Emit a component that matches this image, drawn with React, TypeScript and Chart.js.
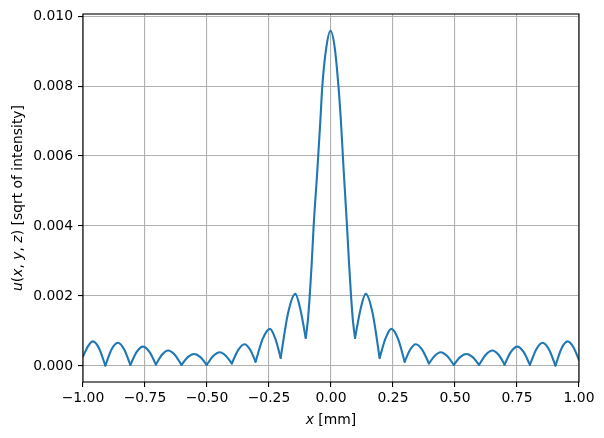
import React, { useEffect, useRef } from "react";
import { Chart, registerables } from "chart.js";

Chart.register(...registerables);

// x positions [mm]
const X_MM = [
  -1.0, -0.98, -0.96, -0.935, -0.91, -0.885, -0.859, -0.834, -0.809, -0.7835,
  -0.758, -0.732, -0.706, -0.6815, -0.657, -0.63, -0.603, -0.5775, -0.552, -0.5265,
  -0.501, -0.475, -0.449, -0.4245, -0.4, -0.3745, -0.349, -0.3265, -0.304, -0.275,
  -0.246, -0.2245, -0.203, -0.1735, -0.144, -0.123, -0.102,
  -0.094, -0.086, -0.078, -0.07, -0.055, -0.043, -0.035, -0.019, -0.002, 0.015, 0.03,
  0.04, 0.051, 0.0645, 0.073, 0.081, 0.089,
  0.097, 0.1185, 0.14, 0.168, 0.196, 0.2195, 0.243, 0.27, 0.297, 0.3195,
  0.342, 0.3685, 0.395, 0.4185, 0.442, 0.4685, 0.495, 0.5205, 0.546, 0.5715,
  0.597, 0.624, 0.651, 0.6755, 0.7, 0.7255, 0.751, 0.7765, 0.802, 0.8275,
  0.853, 0.879, 0.905, 0.9295, 0.954, 0.977, 1.0,
];

// u(x, y, z) [sqrt of intensity]
const U_VALUES = [
  0.00027, 0.00056, 0.0007, 0.0005, 0.00001, 0.00047, 0.00066, 0.00047, 0.00003, 0.0004,
  0.00055, 0.0004, 0.00004, 0.00032, 0.00044, 0.00032, 0.00003, 0.00025, 0.00034, 0.00025,
  0.00003, 0.00028, 0.00039, 0.00029, 0.00007, 0.00045, 0.00062, 0.00047, 0.00012, 0.00078,
  0.00106, 0.00078, 0.00023, 0.0015, 0.00206, 0.0016, 0.0008,
  0.00125, 0.00198, 0.0029, 0.004, 0.0056, 0.007, 0.008, 0.0091, 0.00958, 0.0091, 0.008,
  0.007, 0.0056, 0.004, 0.0029, 0.00198, 0.00125,
  0.0008, 0.0016, 0.00206, 0.0015, 0.00023, 0.00078, 0.00106, 0.00078, 0.00012, 0.00047,
  0.00062, 0.00045, 0.00007, 0.00029, 0.00039, 0.00028, 0.00003, 0.00025, 0.00034, 0.00025,
  0.00003, 0.00032, 0.00044, 0.00032, 0.00004, 0.0004, 0.00055, 0.0004, 0.00003, 0.00047,
  0.00066, 0.00047, 0.00001, 0.0005, 0.0007, 0.00054, 0.00017,
];

const X_TICKS = [-1.0, -0.75, -0.5, -0.25, 0.0, 0.25, 0.5, 0.75, 1.0];
const Y_TICKS = [0.0, 0.002, 0.004, 0.006, 0.008, 0.01];
const X_RANGE = [-1.0, 1.0];
const Y_RANGE = [-0.00046, 0.01006];

const FONT = "'DejaVu Sans', sans-serif";
const LINE_COLOR = "#1f77b4";

function fmt(v: number, d: number) {
  const s = Math.abs(v).toFixed(d);
  return v < -1e-12 ? "\u2212" + s : s;
}

// split the curve at its zeros (local minima) so each lobe meets the next in a cusp
function buildSegments() {
  const cuts: number[] = [0];
  for (let i = 1; i < U_VALUES.length - 1; i++) {
    if (U_VALUES[i] < U_VALUES[i - 1] && U_VALUES[i] < U_VALUES[i + 1]) cuts.push(i);
  }
  cuts.push(U_VALUES.length - 1);
  const segs: { x: number; y: number }[][] = [];
  for (let k = 0; k < cuts.length - 1; k++) {
    const seg: { x: number; y: number }[] = [];
    for (let i = cuts[k]; i <= cuts[k + 1]; i++) seg.push({ x: X_MM[i], y: U_VALUES[i] });
    segs.push(seg);
  }
  return segs;
}

type Piece = [string, boolean];

function drawPieces(ctx: CanvasRenderingContext2D, pieces: Piece[], cx: number, cy: number, size: number) {
  const widths = pieces.map(([t, it]) => {
    ctx.font = `${it ? "italic " : ""}${size}px ${FONT}`;
    return ctx.measureText(t).width;
  });
  const total = widths.reduce((a, b) => a + b, 0);
  let x = cx - total / 2;
  ctx.textBaseline = "middle";
  ctx.textAlign = "left";
  pieces.forEach(([t, it], i) => {
    ctx.font = `${it ? "italic " : ""}${size}px ${FONT}`;
    ctx.fillText(t, x, cy);
    x += widths[i];
  });
}

const framePlugin = {
  id: "frameAndTitles",
  afterDatasetsDraw(chart: any) {
    const { ctx, chartArea } = chart;
    ctx.save();
    ctx.strokeStyle = "#000";
    ctx.lineWidth = 1.1;
    ctx.strokeRect(chartArea.left, chartArea.top, chartArea.right - chartArea.left, chartArea.bottom - chartArea.top);
    ctx.restore();
  },
  afterDraw(chart: any) {
    const { ctx, chartArea } = chart;
    ctx.save();
    ctx.fillStyle = "#000";
    const cx = (chartArea.left + chartArea.right) / 2;
    drawPieces(ctx, [["x", true], [" [mm]", false]], cx, 420, 13.9);
    ctx.translate(18, (chartArea.top + chartArea.bottom) / 2);
    ctx.rotate(-Math.PI / 2);
    drawPieces(
      ctx,
      [
        ["u", true], ["(", false], ["x", true], [", ", false], ["y", true], [", ", false], ["z", true],
        [") [sqrt of intensity]", false],
      ],
      0,
      0,
      13.9
    );
    ctx.restore();
  },
};

export default function App() {
  const ref = useRef<HTMLCanvasElement | null>(null);
  useEffect(() => {
    if (!ref.current) return;
    const segs = buildSegments();
    const chart = new Chart(ref.current, {
      type: "line",
      data: {
        datasets: segs.map((s) => ({
          data: s,
          borderColor: LINE_COLOR,
          borderWidth: 2.1,
          borderCapStyle: "round" as const,
          borderJoinStyle: "round" as const,
          pointRadius: 0,
          cubicInterpolationMode: "monotone" as const,
          fill: false,
        })),
      },
      options: {
        animation: false,
        responsive: false,
        maintainAspectRatio: false,
        events: [],
        layout: { padding: { top: 14, right: 25, left: 0, bottom: 0 } },
        plugins: { legend: { display: false }, tooltip: { enabled: false }, title: { display: false } },
        scales: {
          x: {
            type: "linear",
            min: X_RANGE[0],
            max: X_RANGE[1],
            afterBuildTicks: (s: any) => {
              s.ticks = X_TICKS.map((v) => ({ value: v }));
            },
            afterFit: (s: any) => {
              s.height = 56;
            },
            ticks: {
              callback: (v: any) => fmt(Number(v), 2),
              color: "#000",
              font: { family: FONT, size: 13.9 },
              padding: 3,
              maxRotation: 0,
              autoSkip: false,
            },
            grid: { color: "#b0b0b0", lineWidth: 1.1, tickLength: 5, tickColor: "#000", tickWidth: 1.1 },
            border: { display: false },
          },
          y: {
            type: "linear",
            min: Y_RANGE[0],
            max: Y_RANGE[1],
            afterBuildTicks: (s: any) => {
              s.ticks = Y_TICKS.map((v) => ({ value: v }));
            },
            afterFit: (s: any) => {
              s.width = 83;
            },
            ticks: {
              callback: (v: any) => fmt(Number(v), 3),
              color: "#000",
              font: { family: FONT, size: 13.9 },
              padding: 5,
              autoSkip: false,
            },
            grid: { color: "#b0b0b0", lineWidth: 1.1, tickLength: 5, tickColor: "#000", tickWidth: 1.1 },
            border: { display: false },
          },
        },
      },
      plugins: [framePlugin],
    } as any);
    return () => chart.destroy();
  }, []);
  return (
    <div style={{ position: "fixed", left: 0, top: 0, width: 604, height: 438, background: "#fff" }}>
      <canvas ref={ref} width={604} height={438} style={{ display: "block", width: 604, height: 438 }} />
    </div>
  );
}
